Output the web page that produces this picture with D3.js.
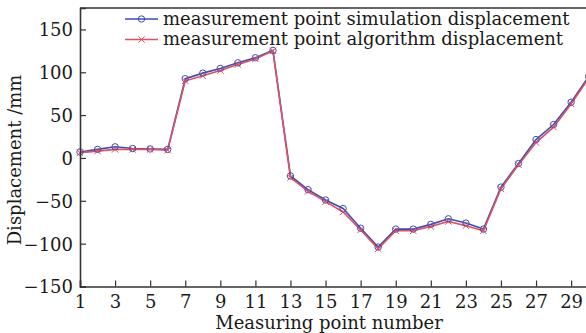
<!DOCTYPE html>
<html>
<head>
<meta charset="utf-8">
<script src="https://cdn.jsdelivr.net/npm/d3@7"></script>
<style>
  body { margin: 0; background: #fff; }
  #chart { width: 586px; height: 333px; }
  text { font-family: "DejaVu Serif", serif; fill: #1a1a1a; }
</style>
</head>
<body>
<div id="chart"></div>
<script>
// measuring point numbers 1..30
const points = [1,2,3,4,5,6,7,8,9,10,11,12,13,14,15,16,17,18,19,20,21,22,23,24,25,26,27,28,29,30];
const simDisp = [7,10,13,11,10.5,10,92.5,99,104.5,111,117,125.5,-21,-37,-49,-59,-82,-104,-83,-83,-77.5,-71,-76,-83,-34,-6.5,21.5,39,65,95];
const algDisp = [6,8,10,10,10,9,90,96,102,109,115.5,125,-23,-39,-51,-63,-84,-106,-85,-85,-80,-74,-79,-85,-36,-8,18,36,63,93];
const xTicks = [1,3,5,7,9,11,13,15,17,19,21,23,25,27,29];
const yTicks = [-150,-100,-50,0,50,100,150];
const seriesNames = ['measurement point simulation displacement', 'measurement point algorithm displacement'];

const width = 586, height = 333;
const margin = { t: 8, r: 0, b: 47, l: 80 };

const svg = d3.select('#chart').append('svg')
    .attr('width', width)
    .attr('height', height);

const scaleX = d3.scaleLinear()
    .domain([1, 30])
    .range([margin.l, margin.l + 29 * 17.54]);

const scaleY = d3.scaleLinear()
    .domain([-150, 175])
    .range([height - margin.b + 0.5, margin.t]);

const fmt = d => d < 0 ? '\u2212' + Math.abs(d) : String(d);

// series
const series = [
    { name: seriesNames[0], values: simDisp, color: '#3b4cb4', marker: 'circle' },
    { name: seriesNames[1], values: algDisp, color: '#e0505e', marker: 'cross' }
];

const line = d3.line()
    .x((d, i) => scaleX(points[i]))
    .y(d => scaleY(d));

const plot = svg.append('g').attr('class', 'plot');

series.forEach(s => {
    plot.append('path')
        .datum(s.values)
        .attr('fill', 'none')
        .attr('stroke', s.color)
        .attr('stroke-width', 1.6)
        .attr('d', line);
});

function drawMarker(g, type, color, x, y) {
    if (type === 'circle') {
        g.append('circle')
            .attr('cx', x).attr('cy', y).attr('r', 3.2)
            .attr('fill', 'none')
            .attr('stroke', color)
            .attr('stroke-width', 1);
    } else {
        const s = 3.2;
        g.append('path')
            .attr('d', `M${x - s},${y - s}L${x + s},${y + s}M${x - s},${y + s}L${x + s},${y - s}`)
            .attr('stroke', color)
            .attr('stroke-width', 1);
    }
}

series.forEach(s => {
    const mg = plot.append('g');
    s.values.forEach((v, i) => drawMarker(mg, s.marker, s.color, scaleX(points[i]), scaleY(v)));
});

// axes
const axisY = d3.axisLeft(scaleY)
    .tickValues(yTicks)
    .tickSize(-6)
    .tickPadding(7)
    .tickFormat(fmt);

const axisX = d3.axisBottom(scaleX)
    .tickValues(xTicks)
    .tickSize(-6)
    .tickPadding(8)
    .tickFormat(d => d);

const axisYNode = svg.append('g')
    .attr('class', 'axis axis-y')
    .attr('transform', `translate(${margin.l},0)`)
    .call(axisY);

const axisXNode = svg.append('g')
    .attr('class', 'axis axis-x')
    .attr('transform', `translate(0,${scaleY(-150)})`)
    .call(axisX);

[axisYNode, axisXNode].forEach(a => {
    a.select('.domain').attr('stroke', '#333').attr('stroke-width', 1.6);
    a.selectAll('.tick line').attr('stroke', '#333').attr('stroke-width', 1.2);
    a.selectAll('.tick text')
        .style('font-family', '"DejaVu Serif", serif')
        .style('font-size', '18px')
        .attr('fill', '#1a1a1a');
});
axisYNode.selectAll('.tick text').attr('dy', '0.36em');
axisXNode.selectAll('.tick text').attr('dy', '0.75em');

// top frame line
svg.append('line')
    .attr('x1', margin.l).attr('x2', width)
    .attr('y1', scaleY(175)).attr('y2', scaleY(175))
    .attr('stroke', '#333')
    .attr('stroke-width', 1.6);

// axis titles
svg.append('text')
    .attr('x', 329)
    .attr('y', 329)
    .attr('text-anchor', 'middle')
    .style('font-size', '18px')
    .text('Measuring point number');

svg.append('text')
    .attr('transform', 'translate(21,160) rotate(-90)')
    .attr('text-anchor', 'middle')
    .style('font-size', '18px')
    .text('Displacement /mm');

// legend
const legend = svg.append('g').attr('class', 'legend');
series.forEach((s, i) => {
    const y = 19 + i * 20.5;
    legend.append('line')
        .attr('x1', 125).attr('x2', 158)
        .attr('y1', y).attr('y2', y)
        .attr('stroke', s.color)
        .attr('stroke-width', 1.6);
    drawMarker(legend, s.marker, s.color, 141.5, y);
    legend.append('text')
        .attr('x', 163)
        .attr('y', y)
        .attr('dy', '0.32em')
        .style('font-size', '18px')
        .text(s.name);
});
</script>
</body>
</html>
